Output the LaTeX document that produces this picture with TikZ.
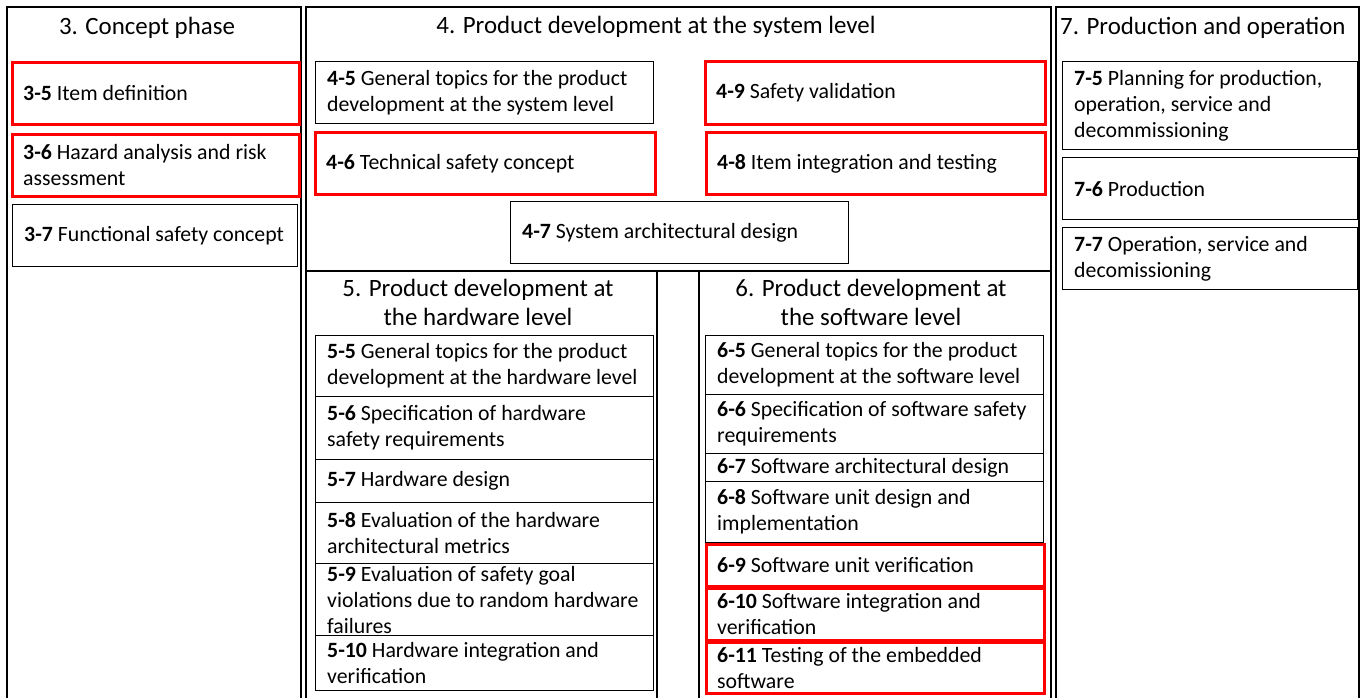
\documentclass[tikz,border=0pt]{standalone}
\usepackage{fontspec}
\setmainfont{Carlito}
\usepackage{tikz}

\newcommand\stepfont{\fontsize{21.8}{26}\selectfont}
\newcommand\titlefont{\fontsize{24.9}{29}\selectfont}

\tikzset{
    panel/.style={draw=black, line width=1.3pt},
    stepbox/.style={draw=black, line width=1.3pt, rectangle, anchor=north west, inner sep=0pt},
    redbox/.style={stepbox, draw=red, line width=3pt},
    steptext/.style={anchor=180, xshift=12pt, align=left, inner sep=0pt, font=\stepfont},
    phasetitle/.style={align=center, inner sep=0pt, font=\titlefont},
}

\begin{document}
\begin{tikzpicture}[x=1pt, y=-1pt]
    \useasboundingbox (0,0) rectangle (1361,698);

    % panels
    \draw[panel] (7,698) |- (301,7) -- (301,698);
    \draw[panel] (306,698) |- (1051,7) -- (1051,698);
    \draw[panel] (1056,698) |- (1359,7) -- (1359,698);
    \draw[panel] (306,271) -- (1051,271);
    \draw[panel] (657,271) -- (657,698);
    \draw[panel] (699,271) -- (699,698);

    % 3. concept phase
    \draw
    (147,28)node[phasetitle](t3){3. Concept phase}
    (11,61)node[redbox, minimum width=287pt, minimum height=62pt](b35){}
    (b35.180)node[steptext](l35){\textbf{3-5} Item definition}
    (11,133)node[redbox, minimum width=287pt, minimum height=62pt](b36){}
    (b36.180)node[steptext](l36){\textbf{3-6} Hazard analysis and risk\\assessment}
    (12,204)node[stepbox, minimum width=285pt, minimum height=62pt](b37){}
    (b37.180)node[steptext](l37){\textbf{3-7} Functional safety concept}
    ;

    % 4. system level
    \draw
    (656,27)node[phasetitle](t4){4. Product development at the system level}
    (315,61)node[stepbox, minimum width=338pt, minimum height=62pt](b45){}
    (b45.180)node[steptext](l45){\textbf{4-5} General topics for the product\\development at the system level}
    (314,131)node[redbox, minimum width=340pt, minimum height=62pt](b46){}
    (b46.180)node[steptext](l46){\textbf{4-6} Technical safety concept}
    (510,201)node[stepbox, minimum width=338pt, minimum height=62pt](b47){}
    (b47.180)node[steptext](l47){\textbf{4-7} System architectural design}
    (705,131)node[redbox, minimum width=339pt, minimum height=62pt](b48){}
    (b48.180)node[steptext](l48){\textbf{4-8} Item integration and testing}
    (704,60)node[redbox, minimum width=340pt, minimum height=63pt](b49){}
    (b49.180)node[steptext](l49){\textbf{4-9} Safety validation}
    ;

    % 5. hardware level
    \draw
    (478,302)node[phasetitle](t5){5. Product development at\\the hardware level}
    (315,335)node[stepbox, minimum width=338pt, minimum height=61pt](b55){}
    (b55.180)node[steptext](l55){\textbf{5-5} General topics for the product\\development at the hardware level}
    (315,396)node[stepbox, minimum width=338pt, minimum height=63pt](b56){}
    (b56.180)node[steptext](l56){\textbf{5-6} Specification of hardware\\safety requirements}
    (315,459)node[stepbox, minimum width=338pt, minimum height=43pt](b57){}
    (b57.180)node[steptext](l57){\textbf{5-7} Hardware design}
    (315,502)node[stepbox, minimum width=338pt, minimum height=61pt](b58){}
    (b58.180)node[steptext](l58){\textbf{5-8} Evaluation of the hardware\\architectural metrics}
    (315,563)node[stepbox, minimum width=338pt, minimum height=72pt](b59){}
    (b59.180)node[steptext](l59){\textbf{5-9} Evaluation of safety goal\\violations due to random hardware\\failures}
    (315,635)node[stepbox, minimum width=338pt, minimum height=55pt](b510){}
    (b510.180)node[steptext](l510){\textbf{5-10} Hardware integration and\\verification}
    ;

    % 6. software level
    \draw
    (871,302)node[phasetitle](t6){6. Product development at\\the software level}
    (705,335)node[stepbox, minimum width=338pt, minimum height=59pt](b65){}
    (b65.180)node[steptext](l65){\textbf{6-5} General topics for the product\\development at the software level}
    (705,394)node[stepbox, minimum width=338pt, minimum height=59pt](b66){}
    (b66.180)node[steptext](l66){\textbf{6-6} Specification of software safety\\requirements}
    (705,453)node[stepbox, minimum width=338pt, minimum height=28pt](b67){}
    (b67.180)node[steptext](l67){\textbf{6-7} Software architectural design}
    (705,481)node[stepbox, minimum width=338pt, minimum height=61pt](b68){}
    (b68.180)node[steptext](l68){\textbf{6-8} Software unit design and\\implementation}
    (705,543)node[redbox, minimum width=338pt, minimum height=42pt](b69){}
    (b69.180)node[steptext](l69){\textbf{6-9} Software unit verification}
    (705,587)node[redbox, minimum width=338pt, minimum height=52pt](b610){}
    (b610.180)node[steptext](l610){\textbf{6-10} Software integration and\\verification}
    (705,641)node[redbox, minimum width=338pt, minimum height=51pt](b611){}
    (b611.180)node[steptext](l611){\textbf{6-11} Testing of the embedded\\software}
    ;

    % 7. production and operation
    \draw
    (1060,28)node[phasetitle, anchor=180](t7){7. Production and operation}
    (1062,61)node[stepbox, minimum width=295pt, minimum height=88pt](b75){}
    (b75.180)node[steptext](l75){\textbf{7-5} Planning for production,\\operation, service and\\decommissioning}
    (1062,157)node[stepbox, minimum width=295pt, minimum height=62pt](b76){}
    (b76.180)node[steptext](l76){\textbf{7-6} Production}
    (1062,227)node[stepbox, minimum width=295pt, minimum height=62pt](b77){}
    (b77.180)node[steptext](l77){\textbf{7-7} Operation, service and\\decomissioning}
    ;
\end{tikzpicture}
\end{document}
